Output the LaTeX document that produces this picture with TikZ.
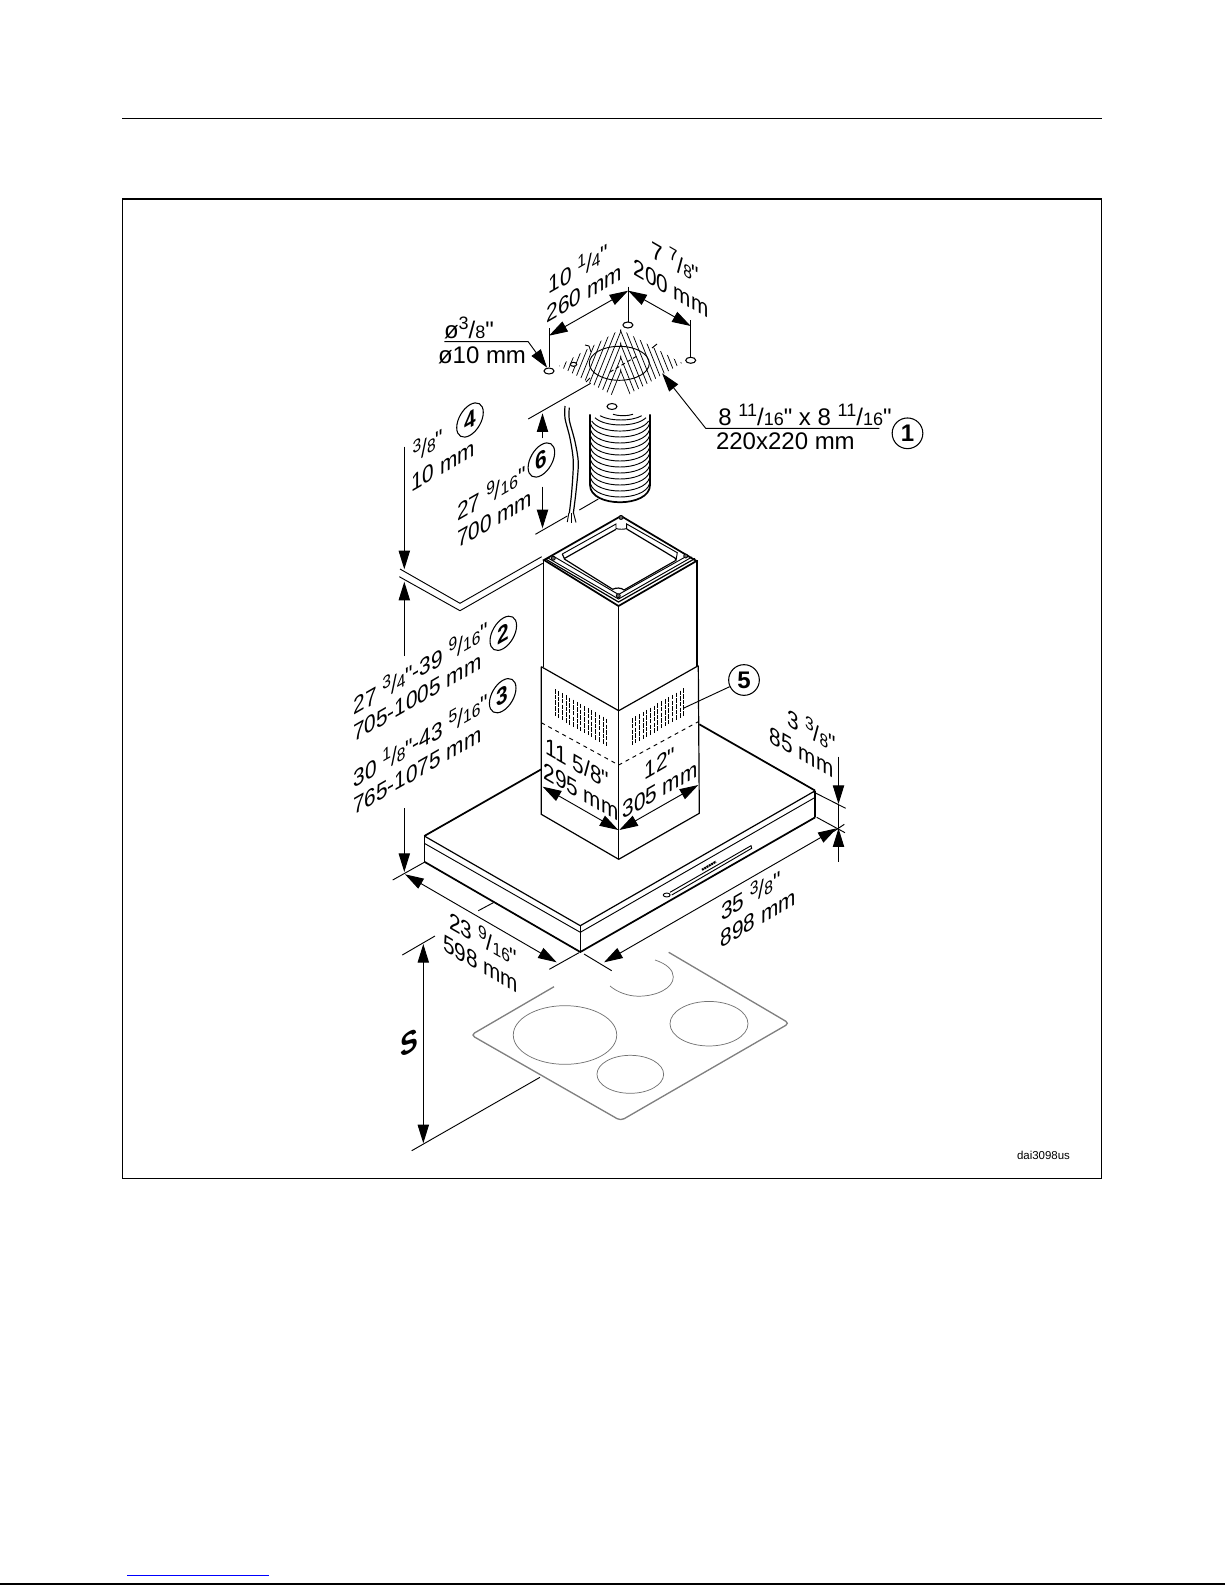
\documentclass[tikz,border=0pt]{standalone}
\usepackage{fontspec}
\setmainfont[Ligatures=TeXOff]{Liberation Sans}
\usetikzlibrary{arrows.meta}
\newcommand\fs{\fontsize{18}{20}\selectfont}
\newcommand\fr[2]{\raisebox{.36em}{\fontsize{13.5}{14}\selectfont #1}/{\fontsize{13.5}{14}\selectfont #2}}
\tikzset{
  lbl/.style={inner sep=0pt,font=\fs},
  isoR/.style={lbl,cm={.866,.5,0,1,(0,0)}},
  isoF/.style={lbl,cm={.866,-.5,0,1,(0,0)}},
  num/.style={circle,draw,line width=.8pt,inner sep=0pt,minimum size=23pt,font=\fs\bfseries},
  thin line/.style={line width=.7pt},
  edge line/.style={line width=1.3pt},
  mid line/.style={line width=.9pt},
  dim/.style={line width=.7pt,{Triangle[length=14pt,width=8.5pt]}-{Triangle[length=14pt,width=8.5pt]}},
  dimend/.style={line width=.7pt,-{Triangle[length=14pt,width=8.5pt]}},
  hob/.style={draw=black!50,line width=1pt,rounded corners=3pt},
  burner/.style={draw=black!55,line width=.55pt},
  hole/.style={draw=black,fill=white,line width=.8pt},
  vent/.style={line width=.65pt},
  hatchl/.style={line width=.55pt}
}
\begin{document}
\begin{tikzpicture}[x=.75pt,y=-.75pt]
\useasboundingbox (0,0) rectangle (1225,1585);
% page furniture
\draw[thin line] (122.3,118.3) -- (1101.6,118.3);
\draw[line width=.8pt] (122.5,199) rectangle (1101.5,1178.5);
\draw[line width=.8pt] (0,1584) -- (1225,1584);
\draw[blue,line width=.6pt] (127,1575) -- (269,1575);
\node[inner sep=0pt,font=\fontsize{8.6}{10}\selectfont] (code) at (1043.5,1155) {dai3098us};

% ---- ceiling: hatch field, holes
\begin{scope}
  \clip (559,366) -- (621,329) -- (621,400) -- cycle;
  \foreach \xc in {560,565.3,...,625} {\draw[hatchl] (\xc+18,319) -- (\xc-18,409);}
\end{scope}
\begin{scope}
  \clip (682,363) -- (620,329) -- (620,400) -- cycle;
  \foreach \xc in {618,623.3,...,684} {\draw[hatchl] (\xc-18,319) -- (\xc+18,409);}
\end{scope}
\draw[thin line] (619.3,363.3) ellipse [x radius=22.5pt,y radius=12.75pt];
\draw[thin line,densely dashed] (610,372) -- (637,356);
\draw[thin line] (585,345) -- (589,346) -- (591,352);
\draw[thin line] (657,344) -- (652,348);
\draw[thin line] (590,378) -- (586,382);
\foreach \hx/\hy/\hn in {549/371/ha,627.9/325/hb,690.7/360.3/hc,612/406.5/hd}{
  \draw[hole] (\hx,\hy) ellipse [x radius=3.75pt,y radius=2.25pt];
}
\draw[hole] (573.5,364.3) ellipse [x radius=2.4pt,y radius=1.5pt];

% ceiling dimension lines
\draw[thin line] (549,328.3) -- (549,366.7);
\draw[thin line] (628.2,286.7) -- (628.2,321.7);
\draw[thin line] (690.7,320) -- (690.7,356.7);
\draw[dim] (549,335.7) -- (628.2,290.7);
\draw[dim] (628.2,290.7) -- (690.7,326);
\draw[dimend] (444.3,341.7) -- (528.2,341.7) -- (547.1,367.7);
\draw[dimend] (879.3,428.3) -- (705.7,428.3) -- (662.1,373.3);
\draw[thin line] (528.2,419) -- (590.7,383.3);

% ---- duct
\draw[edge line] (590,414.3) -- (590,485) .. controls (590,508) and (650,508) .. (650,485) -- (650,414.3);
\draw[thin line] (613,414.3) .. controls (619,416.2) and (627,416.2) .. (633,414.3);
\draw[thin line] (600,415.7) .. controls (610,421.4) and (632,421.4) .. (641.7,415.7);
\draw[thin line] (595,417.7) .. controls (605,427.4) and (636,427.4) .. (646,417.7);
\draw[thin line] (591.7,421) .. controls (600,434.4) and (640,434.4) .. (648.7,421);
\foreach \m in {437,443,...,497}{
  \pgfmathsetmacro\ys{\m-13}
  \pgfmathsetmacro\yc{\m+4.33}
  \draw[thin line] (590.5,\ys) .. controls (596,\yc) and (644,\yc) .. (649.5,\ys);
}

% ---- cable
\draw[mid line] plot[smooth] coordinates {(565,406) (565,418.3) (570,438.3) (573.3,461.7) (571.7,491.7) (569.3,513.3)};
\draw[mid line] plot[smooth] coordinates {(569.3,407.7) (569.3,420) (575,441.7) (578.3,463.3) (576,491.7) (573.3,513.3)};
\draw[thin line] (568.8,513) -- (567.3,522);
\draw[thin line] (571,513) -- (571,522.5);
\draw[thin line] (573.5,513) -- (576,522.5);
\draw[thin line] (535.4,534.3) -- (567.3,516);
\draw[thin line] (579.3,510) -- (598.3,499);
\draw[dimend] (542.5,438.3) -- (542.5,413.3);
\draw[dimend] (542.5,486.7) -- (542.5,528.3);

% ---- hood body
\draw[edge line] (424.3,836) -- (541.3,769.3);
\draw[edge line] (815,790.5) -- (699.3,724.3);
\draw[mid line] (424.3,836) -- (580.3,925.7) -- (815.3,790.7);
\draw[thin line] (424.3,843.3) -- (580.3,932.3) -- (815.3,797.3);
\draw[mid line] (424.3,836) -- (424.3,861.7);
\draw[thin line] (580.3,925.7) -- (580.3,952);
\draw[edge line] (815.3,790.7) -- (815.3,817.3);
\draw[edge line] (424.3,861.7) -- (580.3,952) -- (815.3,817.3);
% control strip
\draw[thin line] (670,892.3) -- (751,845.7) -- (751.7,848.3) -- (671.7,895);
\draw[thin line,fill=white] (666.7,895) ellipse [x radius=2.6pt,y radius=1.5pt];
\draw[line width=1.6pt,dash pattern=on 1.5pt off .5pt] (702,869.8) -- (716,861.6);

% ---- chimney
\draw[edge line] (543.5,560) -- (543.5,666.7);
\draw[edge line] (697.3,560) -- (697.3,665.7);
\draw[thin line] (618.7,605) -- (618.7,710.7);
\draw[mid line] (541.3,666.7) -- (618.7,710.7) -- (698.3,665.7);
\draw[mid line] (541.3,666.7) -- (541.3,814.3) -- (618.7,859.3) -- (699.3,813.3) -- (698.3,665.7);
\draw[thin line] (618.7,710.7) -- (618.7,859.3);
\draw[thin line,dashed] (541.3,722.7) -- (618.7,765) -- (698.3,721.7);
\foreach \ci in {0,...,14}\foreach \ri in {0,...,4}{
  \pgfmathsetmacro\xx{555+3.69*\ci}
  \pgfmathsetmacro\yy{689+2.13*\ci+5.67*\ri}
  \draw[vent] (\xx,\yy) -- ++(0,4.5);
  \pgfmathsetmacro\xr{632+3.69*\ci}
  \pgfmathsetmacro\yr{718.3-2.13*\ci+5.67*\ri}
  \draw[vent] (\xr,\yr) -- ++(0,4.5);
}
% chimney top flange
\draw[edge line] (621,516) -- (544,560) -- (618.5,606) -- (696.5,561) -- cycle;
\draw[mid line] (545.5,559) -- (618.5,602) -- (695,558.5);
\draw[thin line] (548,558) -- (618.5,599) -- (692,557);
\draw[thin line] (553,556) -- (618.5,594.5) -- (687,556);
\draw[thin line] (562.3,554) -- (616,524) -- (616,528.5) .. controls (619,529.5) and (624,529.5) .. (626.7,528.5) -- (626.7,524) -- (677.3,552.7) -- (676,560.5);
\draw[mid line] (616,529.3) -- (564.3,558.5) -- (562.3,554);
\draw[mid line] (626.7,529) -- (675,558) -- (676,560.5);
\draw[mid line] (564.3,559) -- (612.7,589.3) .. controls (616,587.5) and (621,587.5) .. (624,590) -- (675.7,560.5);
\foreach \sx/\sy in {621/517.5,553.3/558.3,685.7/556,618.3/595.7}{
  \draw[line width=.6pt,fill=black!60] (\sx,\sy) circle [radius=1.5pt];
}

% ---- height dimensions
\draw[dimend] (404.3,446.7) -- (404.3,569.3);
\draw[dimend] (404.3,656) -- (404.3,581.7);
\draw[dimend] (404.3,808.3) -- (404.3,872);
\draw[thin line] (400,569) -- (460,603.3) -- (541.7,556.7);
\draw[thin line] (399.3,576.7) -- (460,610.7) -- (542.7,563.3);

% ---- hood dimensions
\draw[dim] (542.7,786.7) -- (618.3,830);
\draw[dim] (619.3,830) -- (698.3,785);
\draw[thin line] (392.7,880) -- (424.3,862.3);
\draw[dim] (405,874.3) -- (556.7,962.3);
\draw[thin line] (549.3,969.3) -- (579,952.7);
\draw[thin line] (478.3,910.7) -- (493.3,902.7);
\draw[thin line] (584,954) -- (611.7,970.7);
\draw[dim] (604,962.3) -- (836.7,828.3);
\draw[thin line] (816.7,817.3) -- (845,832.7);
\draw[thin line] (813,791.7) -- (845.7,808.3);
\draw[thin line] (844.3,824.3) -- (833.3,831.7);
\draw[thin line] (838.5,804) -- (838.5,828.3);
\draw[dimend] (838.5,756.7) -- (838.5,804);
\draw[dimend] (838.5,861.7) -- (838.5,828.3);

% ---- cooktop
\draw[hob] (554,986.7) -- (471,1035) -- (620.7,1120.7) -- (789.3,1023.3) -- (668.7,952.3);
\draw[burner] (565,1035) ellipse [x radius=38.8pt,y radius=22pt];
\draw[burner] (709,1023.7) ellipse [x radius=29.25pt,y radius=16.7pt];
\draw[burner] (630.3,1074.3) ellipse [x radius=25pt,y radius=14.25pt];
\draw[burner] (655,960) .. controls (667,964) and (673.3,970) .. (673.3,977) .. controls (673.3,988) and (657,996.2) .. (638.3,996.2) .. controls (628,996.2) and (617,992) .. (610,986);
\draw[dim] (423.3,944) -- (423.3,1143.3);
\draw[thin line] (402.3,955) -- (435,936);
\draw[thin line] (411.7,1150.7) -- (540,1077.3);

% ---- labels
\node[isoR] (t1) at (578.2,267.3) {10 \fr{1}{4}"};
\node[isoR] (t2) at (584.3,293.3) {260 mm};
\node[isoF] (t3) at (675.4,260.7) {7 \fr{7}{8}"};
\node[isoF] (t4) at (671,288.3) {200 mm};
\node[lbl] (t5) at (469,328) {ø\fr{3}{8}"};
\node[lbl] (t6) at (482,355) {ø10 mm};
\node[lbl] (t7) at (805,415) {8 \fr{11}{16}" x 8 \fr{11}{16}"};
\node[lbl] (t8) at (785.4,441.7) {220x220 mm};
\node[num] (c1) at (907.5,433.3) {1};
\node[isoR] (t9) at (427.9,444) {\fr{3}{8}"};
\node[isoR] (t10) at (442.9,465.7) {10 mm};
\node[num,cm={.866,.5,0,1,(0,0)}] (c4) at (470,420) {4};
\node[isoR] (t11) at (491.4,491.7) {27 \fr{9}{16}"};
\node[isoR] (t12) at (494.6,519) {700 mm};
\node[num,cm={.866,.5,0,1,(0,0)}] (c6) at (541.4,460) {6};
\node[isoR] (t13) at (420.7,666.7) {27 \fr{3}{4}"-39 \fr{9}{16}"};
\node[isoR] (t14) at (417.3,697.3) {705-1005 mm};
\node[num,cm={.866,.5,0,1,(0,0)}] (c2) at (503.3,633.3) {2};
\node[isoR] (t15) at (420.7,739) {30 \fr{1}{8}"-43 \fr{5}{16}"};
\node[isoR] (t16) at (417.3,770.7) {765-1075 mm};
\node[num,cm={.866,.5,0,1,(0,0)}] (c3) at (502.7,695.7) {3};
\node[num] (c5) at (744,680) {5};
\draw[thin line] (c5) -- (683.3,708.3);
\node[isoF] (t17) at (577.3,763.3) {11 5/8"};
\node[isoF] (t18) at (581,791.7) {295 mm};
\node[isoR] (t19) at (660,763.3) {12"};
\node[isoR] (t20) at (660,790) {305 mm};
\node[isoF] (t21) at (811.7,729) {3 \fr{3}{8}"};
\node[isoF] (t22) at (801.7,752.3) {85 mm};
\node[isoR] (t23) at (750.7,894) {35 \fr{3}{8}"};
\node[isoR] (t24) at (758.3,918.3) {898 mm};
\node[isoF] (t25) at (483.3,937.3) {23 \fr{9}{16}"};
\node[isoF] (t26) at (480.7,964) {598 mm};
\node[isoR,font=\fontsize{23}{25}\selectfont\bfseries] (t27) at (409,1043) {S};
\end{tikzpicture}
\end{document}
